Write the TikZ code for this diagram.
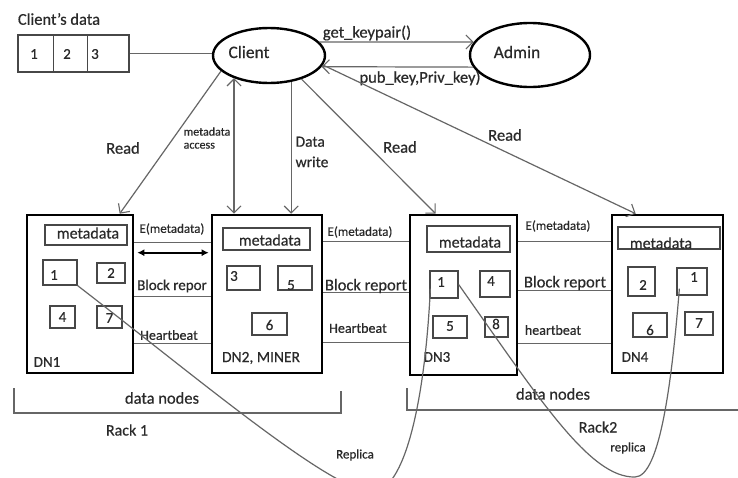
\documentclass[tikz,border=0pt]{standalone}
\usepackage{fontspec}
\setmainfont{Carlito}[FakeBold=0.5]
\usetikzlibrary{shapes.geometric,arrows.meta,calc}
\definecolor{ln}{HTML}{666666}
\definecolor{tx}{HTML}{2A2A2A}
\begin{document}
\begin{tikzpicture}[x=1pt,y=-1pt,
  dnbox/.style={draw=black,line width=2.6pt,inner sep=0pt},
  ib/.style={draw=ln!70!black,line width=1.3pt,inner sep=0pt},
  ell/.style={ellipse,draw=black,line width=2.4pt,inner sep=0pt},
  conn/.style={draw=ln,line width=1.2pt},
  arr/.style={conn,-{Straight Barb[length=7pt,width=14pt,line width=1.1pt]}},
  darr/.style={conn,{Straight Barb[length=7pt,width=14pt,line width=1.1pt]}-{Straight Barb[length=7pt,width=14pt,line width=1.1pt]}},
  dbl/.style={draw=black,line width=1.8pt,{Latex[length=7pt,width=7pt]}-{Latex[length=7pt,width=7pt]}},
  fs/.style={font=\fontsize{#1}{#1}\selectfont,text=tx,inner sep=0pt},
]
\fill[white] (0,0) rectangle (738,477);
\useasboundingbox (0,0) rectangle (738,477);

% client data
\node[fs=16.5] (cdl) at (59,19) {Client's data};
\node[draw=ln!70!black,line width=1.3pt,minimum width=111pt,minimum height=37pt,inner sep=0pt] (cdata) at (73.5,53.5) {};
\draw[draw=ln!70!black,line width=1.3pt] ($(cdata.north west)+(36,0)$) -- ($(cdata.south west)+(36,0)$);
\draw[draw=ln!70!black,line width=1.3pt] ($(cdata.north west)+(70,0)$) -- ($(cdata.south west)+(70,0)$);
\node[fs=15] (cd1) at (34,54) {1};
\node[fs=15] (cd2) at (67,54) {2};
\node[fs=15] (cd3) at (95,54) {3};

% ellipses
\node[ell,minimum width=112pt,minimum height=55pt] (client) at (269,55.5) {};
\node[fs=17.5] (clientl) at (249,52) {Client};
\node[ell,minimum width=120pt,minimum height=64pt] (admin) at (530,55) {};
\node[fs=17.5] (adminl) at (517,52) {Admin};
\draw[conn] (cdata.east) -- (cdata.east -| client.west);

\draw[arr] (client.15) -- (admin.167);
\draw[arr] (admin.192) -- (client.-12);
\node[fs=16.5] (gk) at (367,33) {get\_keypair()};
\node[fs=16.5] (pk) at (420,78) {pub\_key,Priv\_key)};

% data nodes
\node[dnbox,minimum width=106pt,minimum height=158pt] (dn1) at (80,294) {};
\node[dnbox,minimum width=110pt,minimum height=158pt] (dn2) at (267,294) {};
\node[dnbox,minimum width=107pt,minimum height=160pt] (dn3) at (463.5,295) {};
\node[dnbox,minimum width=111pt,minimum height=158pt] (dn4) at (667.5,294) {};

% client connectors
\draw[arr] (client.198) -- ($(dn1.north west)+(94,0)$);
\draw[darr] (client.213) -- (client.213 |- dn2.north);
\draw[arr] (client.310) -- (client.310 |- dn2.north);
\draw[arr] (client.324) -- ($(dn3.north west)+(27,0)$);
\draw[arr] (client.350) -- ($(dn4.north west)+(25,0)$);
\node[fs=16.5] (r1) at (123,148) {Read};
\node[fs=12,align=left] (ma) at (207,138) {metadata\\[1pt]access};
\node[fs=15.5,align=left] (dw) at (312,152) {Data\\[5pt]write};
\node[fs=16.5] (r3) at (400,147) {Read};
\node[fs=16.5] (r4) at (505,135) {Read};

% DN1 contents
\node[ib,minimum width=82pt,minimum height=20pt] (m1) at (86,235) {};
\node[fs=16] (m1l) at (88,233) {metadata};
\node[ib,minimum width=34pt,minimum height=25pt] (b11) at (60,272.5) {};
\node[fs=15] (b11l) at (54,275) {1};
\node[ib,minimum width=28pt,minimum height=20pt] (b12) at (111,273) {};
\node[fs=15] (b12l) at (111,273) {2};
\node[ib,minimum width=25pt,minimum height=22pt] (b14) at (62.5,317) {};
\node[fs=15] (b14l) at (62.5,317) {4};
\node[ib,minimum width=25pt,minimum height=22pt] (b17) at (109.5,317) {};
\node[fs=15] (b17l) at (109.5,318) {7};
\node[fs=15] (dn1l) at (47,362) {DN1};

% DN2 contents
\node[ib,minimum width=87pt,minimum height=22pt] (m2) at (266.5,239) {};
\node[fs=16] (m2l) at (270,240) {metadata};
\node[ib,minimum width=33pt,minimum height=24pt] (b23) at (243.5,278) {};
\node[fs=15] (b23l) at (234,276) {3};
\node[ib,minimum width=34pt,minimum height=24pt] (b25) at (295,278) {};
\node[fs=15] (b25l) at (291,285) {5};
\node[ib,minimum width=35pt,minimum height=22pt] (b26) at (269.5,324) {};
\node[fs=15] (b26l) at (269.5,325) {6};
\node[fs=15.5] (dn2l) at (261,358) {DN2, MINER};

% DN3 contents
\node[ib,minimum width=83pt,minimum height=26pt] (m3) at (468.5,239) {};
\node[fs=16] (m3l) at (470,242) {metadata};
\node[ib,minimum width=28pt,minimum height=27pt] (b31) at (444,284.5) {};
\node[fs=15] (b31l) at (441,282) {1};
\node[ib,minimum width=30pt,minimum height=26pt] (b34) at (495,284) {};
\node[fs=15] (b34l) at (491,281) {4};
\node[ib,minimum width=34pt,minimum height=22pt] (b35) at (450,327) {};
\node[fs=15] (b35l) at (450,326) {5};
\node[ib,minimum width=23pt,minimum height=20pt] (b38) at (496.5,327) {};
\node[fs=15] (b38l) at (496,324) {8};
\node[fs=15] (dn3l) at (437,357) {DN3};

% DN4 contents
\node[ib,minimum width=102pt,minimum height=22pt] (m4) at (669,238) {};
\node[fs=16] (m4l) at (661,243) {metadata};
\node[ib,minimum width=27pt,minimum height=29pt] (b42) at (641.5,281.5) {};
\node[fs=15] (b42l) at (643,285) {2};
\node[ib,minimum width=30pt,minimum height=27pt] (b41) at (692,281.5) {};
\node[fs=15] (b41l) at (694,277) {1};
\node[ib,minimum width=34pt,minimum height=24pt] (b46) at (650,325) {};
\node[fs=15] (b46l) at (650,330) {6};
\node[ib,minimum width=28pt,minimum height=23pt] (b47) at (699,323.5) {};
\node[fs=15] (b47l) at (699,323) {7};
\node[fs=15] (dn4l) at (635,357) {DN4};

% links DN1-DN2
\draw[conn] ($(dn1.north east)+(0,29)$) -- ($(dn2.north west)+(0,29)$);
\draw[dbl] ($(dn1.north east)+(3,39)$) -- ($(dn2.north west)+(-2,39)$);
\draw[conn] ($(dn1.north east)+(0,83)$) -- ($(dn2.north west)+(0,83)$);
\draw[conn] ($(dn1.north east)+(0,130)$) -- ($(dn2.north west)+(0,130)$);
\node[fs=13] (e12) at (172,229) {E(metadata)};
\node[fs=15] (br12) at (172,286) {Block repor};
\node[fs=14] (hb12) at (169,335) {Heartbeat};

% links DN2-DN3
\draw[conn] ($(dn2.north east)+(0,28)$) -- ($(dn3.north west)+(0,28)$);
\draw[conn] ($(dn2.north east)+(0,79)$) -- ($(dn3.north west)+(0,79)$);
\draw[conn] ($(dn2.north east)+(0,129)$) -- ($(dn3.north west)+(0,129)$);
\node[fs=13] (e23) at (360,232) {E(metadata)};
\node[fs=16.5] (br23) at (366,286) {Block report};
\node[fs=14] (hb23) at (358,328) {Heartbeat};

% links DN3-DN4
\draw[conn] ($(dn3.north east)+(0,28)$) -- ($(dn4.north west)+(0,28)$);
\draw[conn] ($(dn3.north east)+(0,77)$) -- ($(dn4.north west)+(0,77)$);
\draw[conn] ($(dn3.north east)+(0,130)$) -- ($(dn4.north west)+(0,130)$);
\node[fs=13] (e34) at (558,226) {E(metadata)};
\node[fs=16.5] (br34) at (565,283) {Block report};
\node[fs=14] (hb34) at (553,330) {heartbeat};

% racks
\draw[conn] (14,388) |- (341,413) -- (341,391);
\draw[conn] (407,388) |- (738,410);
\node[fs=16.5] (dnr1) at (162,398) {data nodes};
\node[fs=16.5] (dnr2) at (553,394) {data nodes};
\node[fs=16] (rk1) at (127,430) {Rack 1};
\node[fs=16] (rk2) at (598,427) {Rack2};
\node[fs=13] (rp1) at (355,455) {Replica};
\node[fs=13] (rp2) at (628,448) {replica};

% replica curves
\begin{scope}
\clip (0,0) rectangle (738,477);
\draw[conn] (b11.south east) .. controls (200,380) and (330,490) .. (372,492)
  .. controls (405,492) and (425,400) .. ($(b31.south west)+(1,-10)$);
\draw[conn] (b31.east) .. controls (540,400) and (590,478) .. (635,477)
  .. controls (660,477) and (672,380) .. ($(b41.south west)+(3,-7)$);
\end{scope}
\end{tikzpicture}
\end{document}
